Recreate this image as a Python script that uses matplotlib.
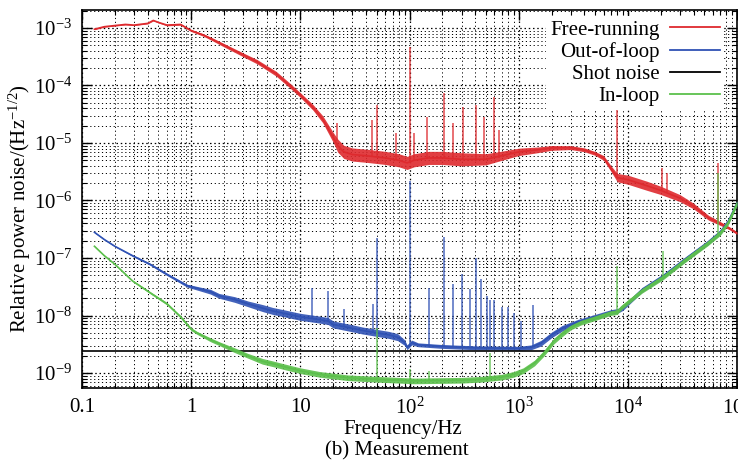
import numpy as np
import matplotlib
matplotlib.use("Agg")
import matplotlib.pyplot as plt
from matplotlib.ticker import FixedLocator, FixedFormatter, LogLocator, NullFormatter
from matplotlib.lines import Line2D

plt.rcParams["font.family"] = ["Liberation Serif", "DejaVu Serif"]
plt.rcParams["mathtext.fontset"] = "custom"
plt.rcParams["mathtext.rm"] = "Liberation Serif"
plt.rcParams["mathtext.it"] = "Liberation Serif:italic"
plt.rcParams["mathtext.bf"] = "Liberation Serif:bold"

# ---------------- data: relative intensity noise spectra ----------------
# Free-running laser
red_freq = [0.13, 0.16, 0.2, 0.25, 0.3, 0.4, 0.45, 0.5, 0.6, 0.8, 1.0, 1.3, 1.6, 2.0,
            3.0, 4.0, 6.0, 8.0, 10, 13, 16, 20, 22, 25, 30, 40, 60, 80, 95, 110, 150,
            200, 300, 500, 700, 1000, 1500, 2000, 3000, 4000, 5000, 6000, 7000, 8000,
            10000, 15000, 20000, 30000, 40000, 55000, 70000, 85000, 100000]
red_level = [0.95e-3, 1.05e-3, 1.1e-3, 1.15e-3, 1.12e-3, 1.2e-3, 1.35e-3, 1.25e-3, 1.12e-3,
             1.15e-3, 0.9e-3, 0.75e-3, 0.62e-3, 0.5e-3, 3.4e-4, 2.6e-4, 1.6e-4, 1.0e-4,
             6.8e-5, 4.2e-5, 2.6e-5, 1.25e-5, 9e-6, 7e-6, 6.3e-6, 6e-6, 5.5e-6, 5e-6,
             4.5e-6, 5e-6, 5.5e-6, 5.5e-6, 5.2e-6, 5.2e-6, 6e-6, 7e-6, 7.6e-6, 8.2e-6,
             8.3e-6, 7.6e-6, 6.6e-6, 5.5e-6, 3.6e-6, 2.5e-6, 2.3e-6, 1.8e-6, 1.5e-6,
             1.1e-6, 8e-7, 5e-7, 4e-7, 3.3e-7, 2.7e-7]
red_band = [1.02, 1.02, 1.02, 1.02, 1.02, 1.02, 1.02, 1.02, 1.03, 1.03, 1.04, 1.05, 1.06,
            1.07, 1.08, 1.09, 1.1, 1.1, 1.1, 1.12, 1.15, 1.22, 1.3, 1.3, 1.3, 1.3,
            1.3, 1.3, 1.3, 1.3, 1.3, 1.3, 1.3, 1.25, 1.2, 1.16, 1.12, 1.1, 1.08,
            1.08, 1.08, 1.1, 1.12, 1.18, 1.2, 1.2, 1.18, 1.15, 1.12, 1.1, 1.08, 1.06, 1.05]
red_spike_freq = [21.8, 45.7, 50.8, 75, 100, 110, 146, 205, 251, 306, 403, 478, 590, 655,
                  8000, 20500, 23000, 67000]
red_spike_peak = [2.2e-5, 2.5e-5, 4.5e-5, 1.5e-5, 4.6e-4, 1.5e-5, 2.8e-5, 7.3e-5, 2.2e-5,
                  4.2e-5, 4.5e-5, 2.8e-5, 6.2e-5, 1.7e-5, 4.5e-5, 3.6e-6, 3.0e-6, 4.4e-6]
red_spike_base = [1.1e-5, 6e-6, 6e-6, 5e-6, 4.5e-6, 5e-6, 5.5e-6, 5.5e-6, 5.5e-6,
                  5.2e-6, 5.2e-6, 5.2e-6, 5.5e-6, 5.5e-6, 2.5e-6, 1.5e-6, 1.4e-6, 4e-7]

# Out-of-loop measurement
blue_freq = [0.13, 0.16, 0.2, 0.29, 0.42, 0.6, 0.92, 1.2, 1.5, 1.8, 2.5, 3.3, 4.5, 5.6,
             7, 10, 15, 18, 20, 30, 37, 50, 65, 78, 90, 95, 105, 120, 200, 400, 1000,
             1300, 1600, 2000, 2500, 3500, 5000, 7000, 8000, 9000, 13500, 21000, 33000,
             54000, 70000, 83000, 100000]
blue_level = [2.8e-7, 2.1e-7, 1.6e-7, 1.1e-7, 7.8e-8, 5.2e-8, 3.3e-8, 2.9e-8, 2.6e-8,
              2.2e-8, 1.9e-8, 1.6e-8, 1.35e-8, 1.2e-8, 1.1e-8, 9.5e-9, 8.5e-9, 8e-9,
              7e-9, 6e-9, 5.5e-9, 5e-9, 4.6e-9, 4.2e-9, 3.4e-9, 2.8e-9, 3.4e-9, 3.1e-9,
              2.9e-9, 2.75e-9, 2.7e-9, 2.8e-9, 3.3e-9, 4.6e-9, 6e-9, 7.8e-9, 9.5e-9,
              1.15e-8, 1.2e-8, 1.35e-8, 2.8e-8, 4.8e-8, 9.3e-8, 1.85e-7, 2.8e-7, 4.3e-7,
              9e-7]
blue_band = [1.02, 1.02, 1.02, 1.03, 1.04, 1.05, 1.06, 1.08, 1.1, 1.1, 1.12, 1.12, 1.15,
             1.15, 1.15, 1.15, 1.15, 1.15, 1.15, 1.15, 1.15, 1.15, 1.15, 1.15, 1.12, 1.1,
             1.1, 1.08, 1.08, 1.08, 1.08, 1.1, 1.12, 1.12, 1.12, 1.1, 1.1, 1.1, 1.1, 1.1,
             1.1, 1.1, 1.1, 1.1, 1.1, 1.1, 1.1]
blue_spike_freq = [12.9, 18.1, 25, 46, 50.7, 100, 150, 205, 250, 305, 355, 403, 450, 508,
                   550, 590, 700, 800, 900, 1050, 1350]
blue_spike_peak = [3e-8, 2.7e-8, 1.3e-8, 1.6e-8, 2.2e-7, 2.2e-6, 3e-8, 2.3e-7, 3.6e-8,
                   5.3e-8, 2.9e-8, 1e-7, 4.4e-8, 2.2e-8, 1.9e-8, 1.9e-8, 1.4e-8, 1.4e-8,
                   1.1e-8, 8e-9, 1.5e-8]
blue_spike_base = [9e-9, 8e-9, 6.5e-9, 5e-9, 5e-9, 3e-9, 3e-9, 2.9e-9, 2.9e-9, 2.8e-9,
                   2.8e-9, 2.75e-9, 2.75e-9, 2.75e-9, 2.7e-9, 2.7e-9, 2.7e-9, 2.7e-9,
                   2.7e-9, 2.7e-9, 2.8e-9]

# Shot-noise limit
shot_noise_level = 2.4e-9

# In-loop measurement
green_freq = [0.13, 0.16, 0.2, 0.29, 0.42, 0.6, 0.8, 1.0, 1.13, 1.5, 1.84, 2.5, 3.3, 4.5,
              5.6, 7, 10, 15, 27, 50, 110, 300, 450, 700, 900, 1100, 1400, 1700, 2100,
              2500, 3000, 3700, 5000, 6900, 8000, 8600, 13500, 21000, 33000, 54000,
              70000, 83000, 100000]
green_level = [1.6e-7, 1.1e-7, 7.8e-8, 4e-8, 2.5e-8, 1.6e-8, 9.5e-9, 5.8e-9, 5e-9, 3.8e-9,
               3.2e-9, 2.5e-9, 2e-9, 1.6e-9, 1.45e-9, 1.3e-9, 1.1e-9, 9.5e-10, 8.3e-10,
               7.8e-10, 7.3e-10, 7.5e-10, 7.8e-10, 8.5e-10, 9.5e-10, 1.1e-9, 1.5e-9,
               2.2e-9, 3.6e-9, 4.8e-9, 6.2e-9, 7.5e-9, 9e-9, 1.1e-8, 1.15e-8, 1.35e-8,
               2.7e-8, 4.6e-8, 9e-8, 1.8e-7, 2.7e-7, 4.1e-7, 8.9e-7]
green_band = [1.02, 1.02, 1.02, 1.03, 1.04, 1.05, 1.05, 1.06, 1.06, 1.08, 1.08, 1.1, 1.1,
              1.12, 1.12, 1.12, 1.12, 1.12, 1.12, 1.12, 1.12, 1.12, 1.12, 1.12, 1.12,
              1.12, 1.12, 1.12, 1.12, 1.12, 1.1, 1.1, 1.1, 1.1, 1.1, 1.1, 1.1, 1.1, 1.1,
              1.1, 1.1, 1.1, 1.1]
green_spike_freq = [50, 100, 150, 550, 8000, 21000, 67000]
green_spike_peak = [6e-9, 1.2e-9, 1.1e-9, 2.2e-9, 7.3e-8, 1.3e-7, 3e-6]
green_spike_base = [7.8e-10, 7.3e-10, 7.3e-10, 8e-10, 1.2e-8, 4.6e-8, 2.6e-7]

series_names = ["Free-running", "Out-of-loop", "Shot noise", "In-loop"]

x_tick_values = [0.1, 1, 10, 100, 1e3, 1e4, 1e5]
x_tick_labels = ["0.1", "1", "10", "$10^2$", "$10^3$", "$10^4$", "$10^5$"]
y_tick_values = [1e-9, 1e-8, 1e-7, 1e-6, 1e-5, 1e-4, 1e-3]
y_tick_labels = ["$10^{\u22129}$", "$10^{\u22128}$", "$10^{\u22127}$", "$10^{\u22126}$",
                 "$10^{\u22125}$", "$10^{\u22124}$", "$10^{\u22123}$"]

# ---------------- figure ----------------
RED = "#de2a2e"
BLUE = "#2f52b4"
GREEN = "#5cc04c"
FS = 15

fig = plt.figure(figsize=(7.38, 4.71), dpi=100)
ax = fig.add_axes([82 / 738, 1 - 388 / 471, (737 - 82) / 738, (388 - 10) / 471])
ax.set_xscale("log")
ax.set_yscale("log")
ax.set_xlim(0.1, 1e5)
ax.set_ylim(5.5e-10, 2.05e-3)


def draw_trace(freq, level, band, sp_f, sp_base, sp_peak, color, z):
    f = np.asarray(freq)
    v = np.asarray(level)
    b = np.asarray(band)
    ax.fill_between(f, v / b, v * b, color=color, lw=0, alpha=0.9, zorder=z)
    ax.plot(f, v, color=color, lw=1.2, zorder=z + 0.1)
    ax.vlines(sp_f, sp_base, sp_peak, color=color, lw=1.1, alpha=0.85, zorder=z + 0.05)


draw_trace(red_freq, red_level, red_band, red_spike_freq, red_spike_base,
           red_spike_peak, RED, 3)
draw_trace(blue_freq, blue_level, blue_band, blue_spike_freq, blue_spike_base,
           blue_spike_peak, BLUE, 4)
ax.axhline(shot_noise_level, color="black", lw=1.2, zorder=5)
draw_trace(green_freq, green_level, green_band, green_spike_freq, green_spike_base,
           green_spike_peak, GREEN, 6)

# axes, ticks, grid
ax.xaxis.set_major_locator(FixedLocator(x_tick_values))
ax.xaxis.set_major_formatter(FixedFormatter(x_tick_labels))
ax.yaxis.set_major_locator(FixedLocator(y_tick_values))
ax.yaxis.set_major_formatter(FixedFormatter(y_tick_labels))
ax.xaxis.set_minor_locator(LogLocator(base=10, subs=np.arange(2, 10), numticks=30))
ax.yaxis.set_minor_locator(LogLocator(base=10, subs=np.arange(2, 10), numticks=30))
ax.xaxis.set_minor_formatter(NullFormatter())
ax.yaxis.set_minor_formatter(NullFormatter())
ax.tick_params(which="both", direction="in", top=True, right=True, labelsize=FS)
ax.tick_params(which="major", length=7, width=1.0, pad=7)
ax.tick_params(which="minor", length=3.5, width=0.8)
ax.grid(which="major", color="black", linestyle=(0, (1.2, 2.2)), lw=0.9, zorder=1)
ax.grid(which="minor", color="black", linestyle=(0, (1.2, 2.8)), lw=0.7, zorder=1)
ax.set_axisbelow(True)
for s in ax.spines.values():
    s.set_linewidth(1.2)

ax.set_xlabel("Frequency/Hz", fontsize=FS)
ax.xaxis.set_label_coords((403 - 82) / 655, (388 - 420) / 378)
ax.set_ylabel("Relative power noise/(Hz$^{\u22121/2}$)", fontsize=FS)
ax.yaxis.set_label_coords((33 - 82) / 655, (388 - 209) / 378)

handles = [Line2D([], [], color=RED, lw=1.3), Line2D([], [], color=BLUE, lw=1.3),
           Line2D([], [], color="black", lw=1.3), Line2D([], [], color=GREEN, lw=1.3)]
leg = ax.legend(handles, series_names, loc="upper right",
                bbox_to_anchor=((724 - 82) / 655, (388 - 16) / 378),
                markerfirst=False, frameon=True, fancybox=False, framealpha=1,
                edgecolor="none", facecolor="white", fontsize=FS, handlelength=2.4,
                labelspacing=0.12, borderpad=0.2, handletextpad=0.5, borderaxespad=0)
leg.set_zorder(10)

fig.text(397 / 738, 1 - 451 / 471, "(b) Measurement", ha="center", va="center",
         fontsize=FS)

fig.savefig("out.png", dpi=100)
